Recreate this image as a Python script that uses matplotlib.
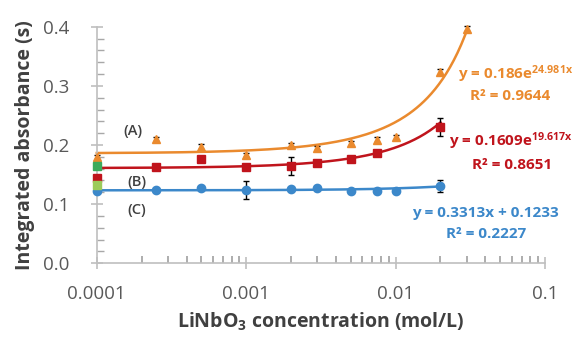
import numpy as np
import matplotlib
matplotlib.use('Agg')
import matplotlib.pyplot as plt

plt.rcParams['font.family'] = ['Open Sans', 'DejaVu Sans']
plt.rcParams['mathtext.fontset'] = 'custom'
plt.rcParams['mathtext.rm'] = 'Open Sans:bold'
plt.rcParams['mathtext.it'] = 'Open Sans:bold'
plt.rcParams['mathtext.bf'] = 'Open Sans:bold'
plt.rcParams['mathtext.default'] = 'rm'
plt.rcParams['xtick.minor.visible'] = True

# ==========================
# Dados
# ==========================
conc_a = [0.0001, 0.00025, 0.0005, 0.001, 0.002, 0.003, 0.005, 0.0075, 0.01, 0.02, 0.03]
abs_a = [0.180, 0.210, 0.197, 0.183, 0.200, 0.195, 0.203, 0.209, 0.213, 0.324, 0.397]
err_a = [0.003, 0.004, 0.004, 0.003, 0.004, 0.003, 0.003, 0.004, 0.004, 0.005, 0.004]

conc_b = [0.0001, 0.00025, 0.0005, 0.001, 0.002, 0.003, 0.005, 0.0075, 0.02]
abs_b = [0.144, 0.163, 0.176, 0.163, 0.165, 0.170, 0.177, 0.187, 0.230]
err_b = [0.004, 0.003, 0.003, 0.003, 0.015, 0.003, 0.003, 0.003, 0.015]

conc_c = [0.0001, 0.00025, 0.0005, 0.001, 0.002, 0.003, 0.005, 0.0075, 0.01, 0.02]
abs_c = [0.122, 0.124, 0.127, 0.124, 0.125, 0.127, 0.122, 0.122, 0.122, 0.130]
err_c = [0.003, 0.002, 0.002, 0.015, 0.002, 0.002, 0.002, 0.002, 0.002, 0.010]

# pontos extras em 0.0001 (verde)
conc_g = [0.0001, 0.0001]
abs_g = [0.165, 0.133]

# coeficientes das linhas de tendencia
fit_a = (0.186, 24.981)
fit_b = (0.1609, 19.617)
fit_c = (0.3313, 0.1233)

c_a = '#EA8A2E'
c_b = '#C0141C'
c_c = '#3C88CA'

fig = plt.figure(figsize=(5.76, 3.4), dpi=100)
ax = fig.add_axes([0.168, 0.226, 0.778, 0.695])

xa = np.logspace(-4, np.log10(0.03), 200)
xb = np.logspace(-4, np.log10(0.02), 200)
ax.plot(xa, fit_a[0] * np.exp(fit_a[1] * xa), color=c_a, lw=1.8, zorder=2, clip_on=False)
ax.plot(xb, fit_b[0] * np.exp(fit_b[1] * xb), color=c_b, lw=1.8, zorder=2, clip_on=False)
ax.plot(xb, fit_c[0] * xb + fit_c[1], color=c_c, lw=1.8, zorder=2, clip_on=False)

for cx, cy, ce, mk, col in [(conc_a, abs_a, err_a, '^', c_a),
                            (conc_b, abs_b, err_b, 's', c_b),
                            (conc_c, abs_c, err_c, 'o', c_c)]:
    eb = ax.errorbar(cx, cy, yerr=ce, fmt=mk, color=col, ms=6,
                     ecolor='black', elinewidth=1, capsize=2.5, zorder=3)
    for art in eb.lines[0:1] + eb.lines[1] + eb.lines[2]:
        art.set_clip_on(False)
ax.plot(conc_g[:1], abs_g[:1], 's', color='#3DAA5A', ms=6, zorder=4, clip_on=False)
ax.plot(conc_g[1:], abs_g[1:], 's', color='#9CCB5A', ms=6, zorder=4, clip_on=False)

ax.set_xscale('log')
ax.set_xlim(0.0001, 0.1)
ax.set_ylim(0, 0.4)
ax.set_xticks([0.0001, 0.001, 0.01, 0.1])
ax.set_xticklabels(['0.0001', '0.001', '0.01', '0.1'])
minor_x = [m * 10.0 ** e for e in (-4, -3, -2) for m in range(2, 10)]
ax.set_xticks(minor_x, minor=True)
ax.set_xticklabels([''] * len(minor_x), minor=True)
ax.set_yticks([0.0, 0.1, 0.2, 0.3, 0.4])
ax.set_yticklabels(['0.0', '0.1', '0.2', '0.3', '0.4'])
ax.set_yticks(np.arange(0, 0.401, 0.02), minor=True)

for s in ['top', 'right']:
    ax.spines[s].set_visible(False)
for s in ['left', 'bottom']:
    ax.spines[s].set_color('#BFBFBF')
    ax.spines[s].set_linewidth(1.2)
ax.tick_params(which='major', direction='inout', length=9, color='#BFBFBF',
               labelsize=13.5, labelcolor='#595959', width=1.2)
ax.tick_params(axis='x', which='major', pad=11)
ax.tick_params(axis='y', which='major', pad=15)
ax.tick_params(axis='y', which='minor', direction='in', length=5, color='#A8A8A8', width=1)
ax.tick_params(axis='x', which='minor', bottom=True, direction='in', length=5,
               color='#A0A0A0', width=1.2)

ax.set_xlabel('LiNbO$_3$ concentration (mol/L)', fontsize=14,
              fontweight='bold', color='#404040', labelpad=6)
ax.set_ylabel('Integrated absorbance (s)', fontsize=14,
              fontweight='bold', color='#404040', labelpad=6)

ax.text(0.000175, 0.224, '(A)', fontsize=10.5, fontweight='semibold', color='#404040',
        ha='center', va='center')
ax.text(0.000185, 0.137, '(B)', fontsize=10.5, fontweight='semibold', color='#404040',
        ha='center', va='center')
ax.text(0.000185, 0.090, '(C)', fontsize=10.5, fontweight='semibold', color='#404040',
        ha='center', va='center')

fig.text(0.895, 0.782, 'y = 0.186e$^{24.981x}$', fontsize=11, fontweight='bold',
         color=c_a, ha='center', va='center')
fig.text(0.886, 0.718, 'R² = 0.9644', fontsize=11, fontweight='bold',
         color=c_a, ha='center', va='center')
fig.text(0.887, 0.585, 'y = 0.1609e$^{19.617x}$', fontsize=11, fontweight='bold',
         color=c_b, ha='center', va='center')
fig.text(0.889, 0.515, 'R² = 0.8651', fontsize=11, fontweight='bold',
         color=c_b, ha='center', va='center')
fig.text(0.842, 0.375, 'y = 0.3313x + 0.1233', fontsize=11, fontweight='bold',
         color=c_c, ha='center', va='center')
fig.text(0.844, 0.313, 'R² = 0.2227', fontsize=11, fontweight='bold',
         color=c_c, ha='center', va='center')

fig.savefig('out.png', dpi=100)
plt.close(fig)
